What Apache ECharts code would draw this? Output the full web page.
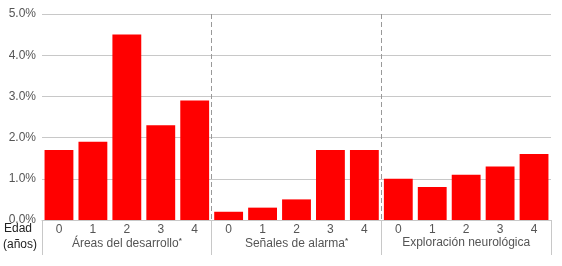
<!DOCTYPE html>
<html><head><meta charset="utf-8">
<script src="https://cdn.jsdelivr.net/npm/echarts@6/dist/echarts.min.js"></script>
<style>html,body{margin:0;padding:0;background:#fff}#c{width:562px;height:266px}</style>
</head><body><div id="c"></div>
<script>
const ages = ['0','1','2','3','4'];
const groups = ['Áreas del desarrollo', 'Señales de alarma', 'Exploración neurológica'];
const groupStar = [true, true, false];
const areasDesarrollo = [1.7, 1.9, 4.5, 2.3, 2.9];
const senalesAlarma = [0.2, 0.3, 0.5, 1.7, 1.7];
const exploracionNeuro = [1.0, 0.8, 1.1, 1.3, 1.6];
const yTicks = [0, 1, 2, 3, 4, 5];

const cats = [];
const vals = [];
[areasDesarrollo, senalesAlarma, exploracionNeuro].forEach((arr, g) => {
  arr.forEach((v, i) => { cats.push(g + '-' + ages[i]); vals.push(v); });
});

const font = 'Liberation Sans, Arial, Helvetica, sans-serif';
const chart = echarts.init(document.getElementById('c'), null, {renderer: 'canvas'});
chart.setOption({
  animation: false,
  grid: {left: 42, right: 11, top: 14, bottom: 46, containLabel: false},
  xAxis: [{
    type: 'category', data: cats,
    axisLine: {show: true, lineStyle: {color: '#c8c8c8', width: 1}},
    axisTick: {show: false},
    axisLabel: {color: '#555', fontSize: 12, fontFamily: font, margin: 4, interval: 0,
      formatter: v => v.split('-')[1]},
    splitLine: {show: false}
  }, {
    type: 'category', data: groups, position: 'bottom',
    axisLine: {show: false},
    axisTick: {show: true, inside: false, interval: 0, length: 35, lineStyle: {color: '#c8c8c8', width: 1}},
    axisLabel: {color: '#555', fontSize: 12, fontFamily: font, margin: 17, interval: 0, hideOverlap: false,
      formatter: (v) => groupStar[groups.indexOf(v)] ? '{a|' + v + '}{s|*}' : '{a|' + v + '}',
      rich: {a: {color: '#555', fontSize: 12, fontFamily: font},
             s: {color: '#555', fontSize: 8, fontFamily: font, padding: [0, 0, 6, 0], fontWeight: 'bold'}}},
    splitLine: {show: true, interval: 0, showMinLine: false, showMaxLine: false,
      lineStyle: {color: '#999', type: [5, 3], width: 1}}
  }],
  yAxis: {
    type: 'value', min: 0, max: 5, interval: 1,
    axisLine: {show: false}, axisTick: {show: false},
    axisLabel: {color: '#555', fontSize: 12, fontFamily: font, margin: 6,
      formatter: v => yTicks.includes(v) ? v.toFixed(1) + '%' : ''},
    splitLine: {lineStyle: {color: '#c8c8c8', width: 1}}
  },
  graphic: [
    {type: 'text', left: 4, top: 223, style: {text: 'Edad', fill: '#222', fontSize: 12, fontFamily: font}},
    {type: 'text', left: 3, top: 239, style: {text: '(años)', fill: '#222', fontSize: 12, fontFamily: font}}
  ],
  series: [{
    type: 'bar', data: vals, xAxisIndex: 0, barCategoryGap: '15%',
    itemStyle: {color: '#ff0000'}
  }]
});
</script></body></html>
